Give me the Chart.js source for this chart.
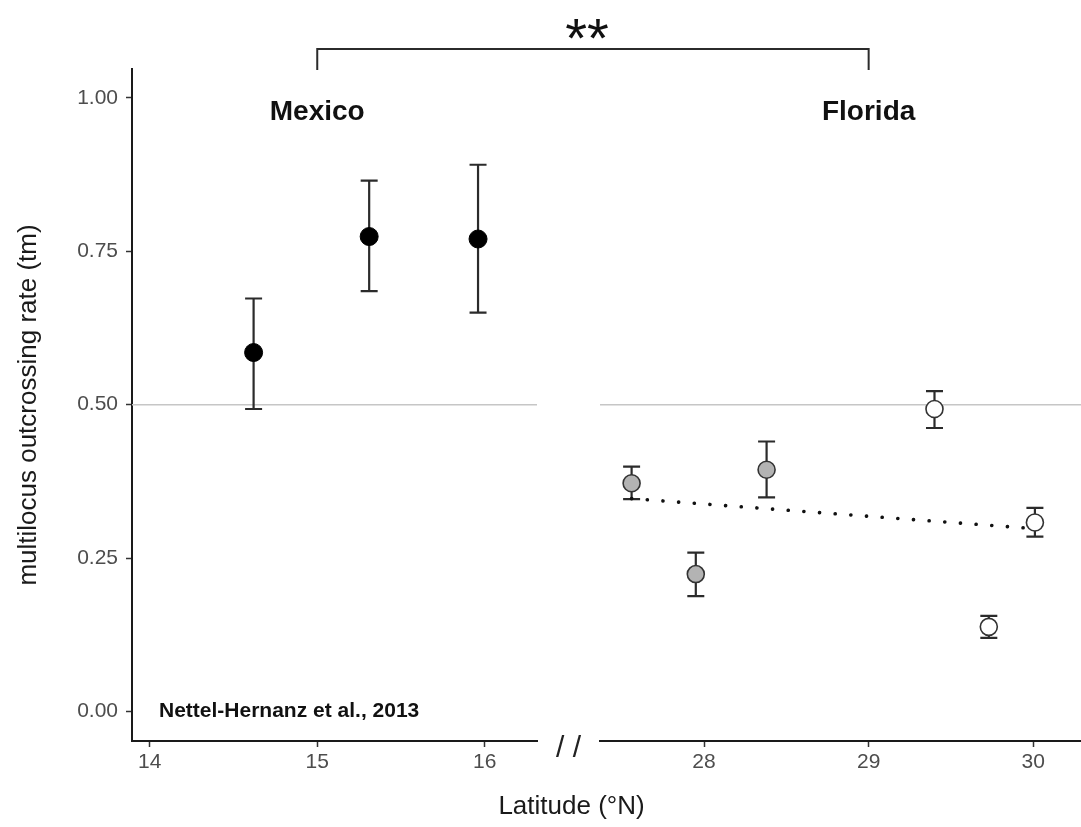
<!DOCTYPE html>
<html>
<head>
<meta charset="utf-8">
<script src="https://cdn.jsdelivr.net/npm/chart.js@4.4.1/dist/chart.umd.min.js"></script>
<style>
  html, body { margin: 0; padding: 0; background: #fff; overflow: hidden; }
  #wrap { width: 1081px; height: 827px; position: relative; }
</style>
</head>
<body>
<div id="wrap"><canvas id="chart"></canvas></div>
<script>
/* ---- Values ---- */
const mexLat  = [14.62, 15.31, 15.96];
const mexTm   = [0.585, 0.774, 0.770];
const mexLow  = [0.493, 0.685, 0.650];
const mexHigh = [0.673, 0.865, 0.891];

const flGrayLat  = [27.56, 27.95, 28.38];
const flGrayTm   = [0.372, 0.224, 0.394];
const flGrayLow  = [0.346, 0.188, 0.349];
const flGrayHigh = [0.399, 0.259, 0.440];

const flWhiteLat  = [29.40, 29.73, 30.01];
const flWhiteTm   = [0.493, 0.138, 0.308];
const flWhiteLow  = [0.462, 0.120, 0.285];
const flWhiteHigh = [0.522, 0.156, 0.332];

const trendLat = [27.56, 30.01];
const trendTm  = [0.347, 0.298];

const yTicks      = [0, 0.25, 0.5, 0.75, 1];
const latTicksMex = [14, 15, 16];
const latTicksFl  = [28, 29, 30];
const refLine     = 0.5;
const bracketLat  = [15, 29];      // Mexico axis value, Florida axis value
const regionNames = ['Mexico', 'Florida'];
const regionLabelTm = 0.977;

const FONT = "'Liberation Sans', Arial, Helvetica, sans-serif";
const pts  = (xs, ys) => xs.map((x, i) => ({ x, y: ys[i] }));

/* ---- Helpers ---- */
function latAxis(min, max, ticks, weight) {
  return {
    type: 'linear', position: 'bottom', stack: 'lat', stackWeight: weight,
    min, max,
    afterBuildTicks: s => { s.ticks = ticks.map(v => ({ value: v })); },
    afterFit: s => { s.height = 86; },
    ticks: {
      color: '#4d4d4d', font: { family: FONT, size: 21 }, padding: 3,
      maxRotation: 0, autoSkip: false, callback: v => String(v),
    },
    grid: { display: true, drawOnChartArea: false, tickLength: 6, tickColor: '#333', tickWidth: 1.5 },
    border: { display: true, color: '#1a1a1a', width: 2 },
  };
}

function drawErrorBars(ctx, xs, ys, lats, lows, highs, half) {
  lats.forEach((lat, i) => {
    const px = xs.getPixelForValue(lat);
    const lo = ys.getPixelForValue(lows[i]);
    const hi = ys.getPixelForValue(highs[i]);
    ctx.beginPath();
    ctx.moveTo(px, lo); ctx.lineTo(px, hi);
    ctx.moveTo(px - half, lo); ctx.lineTo(px + half, lo);
    ctx.moveTo(px - half, hi); ctx.lineTo(px + half, hi);
    ctx.stroke();
  });
}

const figureExtras = {
  id: 'figureExtras',
  beforeDatasetsDraw(chart) {
    const { ctx, scales: { x1, x2, y } } = chart;
    ctx.save();
    /* reference line, drawn per panel */
    const yr = y.getPixelForValue(refLine);
    ctx.strokeStyle = '#c6c6c6';
    ctx.lineWidth = 1.6;
    [x1, x2].forEach(ax => {
      ctx.beginPath(); ctx.moveTo(ax.left, yr); ctx.lineTo(ax.right, yr); ctx.stroke();
    });
    /* error bars */
    ctx.strokeStyle = '#2b2b2b';
    ctx.lineWidth = 2.2;
    drawErrorBars(ctx, x1, y, mexLat, mexLow, mexHigh, 8.5);
    drawErrorBars(ctx, x2, y, flGrayLat, flGrayLow, flGrayHigh, 8.5);
    drawErrorBars(ctx, x2, y, flWhiteLat, flWhiteLow, flWhiteHigh, 8.5);
    ctx.restore();
  },
  afterDraw(chart) {
    const { ctx, scales: { x1, xGap, x2, y } } = chart;
    ctx.save();
    ctx.fillStyle = '#111';

    /* region names */
    ctx.font = `bold 28px ${FONT}`;
    ctx.textAlign = 'center';
    ctx.textBaseline = 'middle';
    const ly = y.getPixelForValue(regionLabelTm);
    ctx.fillText(regionNames[0], x1.getPixelForValue(bracketLat[0]), ly);
    ctx.fillText(regionNames[1], x2.getPixelForValue(bracketLat[1]), ly);

    /* citation */
    ctx.font = `bold 21px ${FONT}`;
    ctx.textAlign = 'left';
    ctx.fillText('Nettel-Hernanz et al., 2013', x1.left + 27, y.getPixelForValue(0));

    /* significance bracket */
    const bx0 = x1.getPixelForValue(bracketLat[0]);
    const bx1 = x2.getPixelForValue(bracketLat[1]);
    ctx.strokeStyle = '#2b2b2b';
    ctx.lineWidth = 2;
    ctx.beginPath();
    ctx.moveTo(bx0, y.top + 1); ctx.lineTo(bx0, 49); ctx.lineTo(bx1, 49); ctx.lineTo(bx1, y.top + 1);
    ctx.stroke();
    ctx.font = `56px ${FONT}`;
    ctx.textAlign = 'center';
    ctx.fillText('**', (bx0 + bx1) / 2 - 6, 42);

    /* axis break */
    ctx.font = `30px ${FONT}`;
    ctx.fillStyle = '#222';
    ctx.fillText('/ /', (xGap.left + xGap.right) / 2, y.bottom + 8);

    /* axis titles */
    ctx.fillStyle = '#1a1a1a';
    ctx.font = `26px ${FONT}`;
    ctx.fillText('Latitude (°N)', (xGap.left + xGap.right) / 2 + 3, 807);
    ctx.translate(29, (y.top + y.bottom) / 2);
    ctx.rotate(-Math.PI / 2);
    ctx.fillText('multilocus outcrossing rate (tm)', 0, 0);
    ctx.restore();
  },
};

/* ---- Chart ---- */
new Chart(document.getElementById('chart'), {
  type: 'scatter',
  data: {
    datasets: [
      {
        label: 'Mexico', xAxisID: 'x1', yAxisID: 'y',
        data: pts(mexLat, mexTm),
        pointRadius: 9, pointBackgroundColor: '#000', pointBorderColor: '#000', pointBorderWidth: 1,
      },
      {
        label: 'Florida (south)', xAxisID: 'x2', yAxisID: 'y',
        data: pts(flGrayLat, flGrayTm),
        pointRadius: 8.5, pointBackgroundColor: '#b3b3b3', pointBorderColor: '#333', pointBorderWidth: 1.6,
      },
      {
        label: 'Florida (north)', xAxisID: 'x2', yAxisID: 'y',
        data: pts(flWhiteLat, flWhiteTm),
        pointRadius: 8.5, pointBackgroundColor: '#fff', pointBorderColor: '#333', pointBorderWidth: 1.6,
      },
      {
        label: 'trend', xAxisID: 'x2', yAxisID: 'y',
        data: pts(trendLat, trendTm),
        showLine: true, pointRadius: 0,
        borderColor: '#111', borderWidth: 3.6, borderDash: [0.1, 15.6], borderCapStyle: 'round',
      },
    ],
  },
  options: {
    responsive: true,
    maintainAspectRatio: false,
    animation: false,
    layout: { autoPadding: false, padding: { top: 69, right: 0, bottom: 0, left: 0 } },
    plugins: { legend: { display: false }, tooltip: { enabled: false } },
    scales: {
      y: {
        type: 'linear', position: 'left', min: -0.048, max: 1.047,
        afterBuildTicks: s => { s.ticks = yTicks.map(v => ({ value: v })); },
        afterFit: s => { s.width = 132; },
        ticks: { color: '#4d4d4d', font: { family: FONT, size: 21 }, padding: 8, callback: v => v.toFixed(2) },
        grid: { display: true, drawOnChartArea: false, tickLength: 6, tickColor: '#333', tickWidth: 1.5 },
        border: { display: true, color: '#1a1a1a', width: 2 },
      },
      x1: latAxis(13.894, 16.312, latTicksMex, 405),
      xGap: {
        type: 'linear', position: 'bottom', stack: 'lat', stackWeight: 63, min: 0, max: 1,
        afterFit: s => { s.height = 86; },
        ticks: { display: false }, grid: { display: false }, border: { display: false },
      },
      x2: latAxis(27.368, 30.29, latTicksFl, 481),
    },
  },
  plugins: [figureExtras],
});
</script>
</body>
</html>
